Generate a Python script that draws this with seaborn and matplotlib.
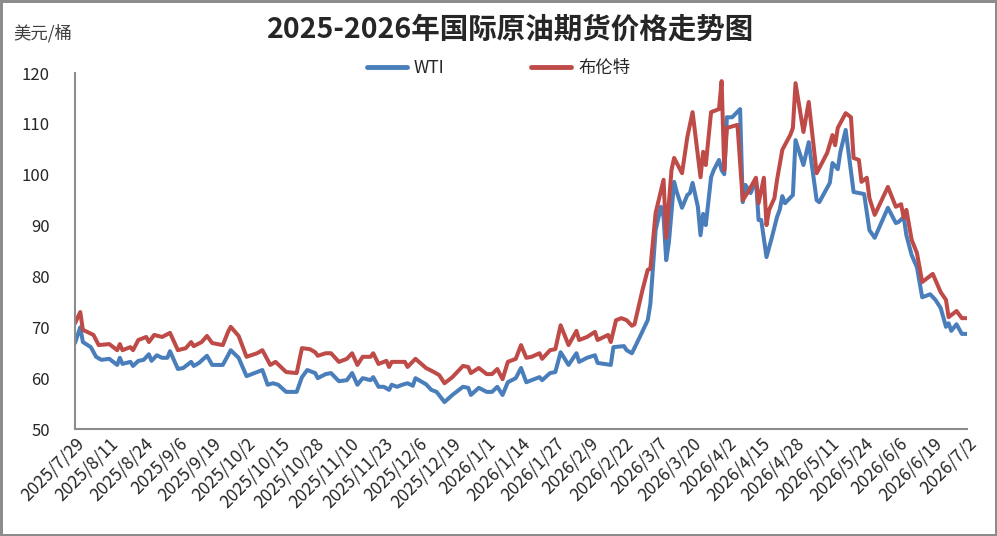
import pandas as pd
import seaborn as sns
from matplotlib import pyplot as plt

wti_dates = [
    "2025-07-29", "2025-07-31", "2025-08-01", "2025-08-04", "2025-08-06", "2025-08-08",
    "2025-08-11", "2025-08-14", "2025-08-15", "2025-08-16", "2025-08-19", "2025-08-20",
    "2025-08-22", "2025-08-24", "2025-08-26", "2025-08-27", "2025-08-29", "2025-08-31",
    "2025-09-02", "2025-09-03", "2025-09-06", "2025-09-08", "2025-09-11", "2025-09-12",
    "2025-09-14", "2025-09-17", "2025-09-19", "2025-09-23", "2025-09-25", "2025-09-26",
    "2025-09-29", "2025-10-02", "2025-10-05", "2025-10-08", "2025-10-10", "2025-10-12",
    "2025-10-14", "2025-10-17", "2025-10-21", "2025-10-23", "2025-10-25", "2025-10-28",
    "2025-10-29", "2025-11-01", "2025-11-03", "2025-11-06", "2025-11-09", "2025-11-11",
    "2025-11-13", "2025-11-15", "2025-11-18", "2025-11-19", "2025-11-21", "2025-11-23",
    "2025-11-25", "2025-11-26", "2025-11-28", "2025-11-30", "2025-12-02", "2025-12-04",
    "2025-12-05", "2025-12-09", "2025-12-11", "2025-12-13", "2025-12-16", "2025-12-19",
    "2025-12-23", "2025-12-25", "2025-12-26", "2025-12-29", "2026-01-01", "2026-01-03",
    "2026-01-05", "2026-01-07", "2026-01-09", "2026-01-12", "2026-01-14", "2026-01-16",
    "2026-01-18", "2026-01-21", "2026-01-22", "2026-01-25", "2026-01-27", "2026-01-29",
    "2026-02-01", "2026-02-04", "2026-02-05", "2026-02-08", "2026-02-11", "2026-02-12",
    "2026-02-17", "2026-02-18", "2026-02-22", "2026-02-23", "2026-02-25", "2026-02-28",
    "2026-03-03", "2026-03-04", "2026-03-06", "2026-03-08", "2026-03-09", "2026-03-10",
    "2026-03-11", "2026-03-13", "2026-03-14", "2026-03-16", "2026-03-18", "2026-03-19",
    "2026-03-20", "2026-03-22", "2026-03-23", "2026-03-24", "2026-03-25", "2026-03-27",
    "2026-03-28", "2026-03-30", "2026-03-31", "2026-04-01", "2026-04-02", "2026-04-04",
    "2026-04-07", "2026-04-08", "2026-04-09", "2026-04-11", "2026-04-13", "2026-04-14",
    "2026-04-15", "2026-04-17", "2026-04-19", "2026-04-21", "2026-04-22", "2026-04-23",
    "2026-04-24", "2026-04-27", "2026-04-28", "2026-05-01", "2026-05-03", "2026-05-06",
    "2026-05-07", "2026-05-11", "2026-05-12", "2026-05-14", "2026-05-15", "2026-05-17",
    "2026-05-20", "2026-05-22", "2026-05-24", "2026-05-26", "2026-05-28", "2026-06-02",
    "2026-06-05", "2026-06-06", "2026-06-08", "2026-06-09", "2026-06-11", "2026-06-13",
    "2026-06-15", "2026-06-18", "2026-06-20", "2026-06-22", "2026-06-24", "2026-06-25",
    "2026-06-26", "2026-06-28", "2026-06-30", "2026-07-02",
]
wti = [
    66.9, 70.0, 67.1, 66.1, 64.2, 63.6,
    63.8, 62.6, 64.0, 62.8, 63.2, 62.4,
    63.4, 63.6, 64.7, 63.4, 64.5, 64.0,
    64.0, 65.3, 61.8, 62.0, 63.2, 62.4,
    63.0, 64.4, 62.6, 62.6, 64.5, 65.5,
    64.0, 60.4, 61.0, 61.6, 58.7, 59.0,
    58.7, 57.3, 57.3, 60.2, 61.6, 61.0,
    60.0, 60.8, 61.0, 59.4, 59.6, 61.0,
    58.7, 60.0, 59.6, 60.2, 58.3, 58.3,
    57.7, 58.7, 58.3, 58.7, 59.0, 58.5,
    60.0, 58.8, 57.7, 57.3, 55.3, 56.7,
    58.3, 58.1, 56.7, 58.1, 57.3, 57.3,
    58.3, 56.7, 59.2, 60.0, 62.0, 59.2,
    59.6, 60.2, 59.6, 61.0, 61.2, 65.1,
    62.6, 64.9, 63.2, 64.0, 64.5, 63.0,
    62.6, 66.1, 66.3, 65.5, 64.9, 68.1,
    71.4, 74.6, 89.1, 93.7, 91.7, 83.2,
    86.6, 98.6, 96.6, 93.5, 96.0, 96.4,
    98.4, 93.7, 88.1, 92.3, 90.1, 99.5,
    100.9, 102.9, 100.9, 100.1, 111.3, 111.3,
    112.9, 94.6, 98.0, 96.4, 99.0, 91.1,
    91.1, 83.8, 87.6, 91.7, 93.1, 95.8,
    94.4, 96.0, 106.8, 101.9, 106.4, 95.0,
    94.6, 98.4, 102.3, 101.1, 104.5, 108.8,
    96.6, 96.4, 96.2, 89.1, 87.6, 93.5,
    90.5, 90.7, 91.7, 88.1, 84.2, 81.8,
    75.9, 76.5, 75.4, 73.8, 70.1, 70.8,
    69.3, 70.6, 68.7, 68.7,
]

brent_dates = [
    "2025-07-29", "2025-07-31", "2025-08-01", "2025-08-05", "2025-08-07", "2025-08-11",
    "2025-08-14", "2025-08-15", "2025-08-16", "2025-08-19", "2025-08-20", "2025-08-22",
    "2025-08-25", "2025-08-26", "2025-08-28", "2025-08-31", "2025-09-03", "2025-09-06",
    "2025-09-09", "2025-09-11", "2025-09-12", "2025-09-15", "2025-09-17", "2025-09-19",
    "2025-09-23", "2025-09-25", "2025-09-26", "2025-09-29", "2025-10-02", "2025-10-06",
    "2025-10-08", "2025-10-11", "2025-10-13", "2025-10-17", "2025-10-21", "2025-10-23",
    "2025-10-26", "2025-10-28", "2025-10-29", "2025-11-01", "2025-11-03", "2025-11-06",
    "2025-11-09", "2025-11-11", "2025-11-13", "2025-11-15", "2025-11-18", "2025-11-19",
    "2025-11-21", "2025-11-24", "2025-11-25", "2025-11-26", "2025-12-01", "2025-12-02",
    "2025-12-05", "2025-12-09", "2025-12-12", "2025-12-14", "2025-12-16", "2025-12-19",
    "2025-12-23", "2025-12-25", "2025-12-26", "2025-12-29", "2026-01-01", "2026-01-03",
    "2026-01-05", "2026-01-07", "2026-01-09", "2026-01-12", "2026-01-14", "2026-01-16",
    "2026-01-18", "2026-01-21", "2026-01-22", "2026-01-25", "2026-01-27", "2026-01-29",
    "2026-02-01", "2026-02-04", "2026-02-05", "2026-02-08", "2026-02-11", "2026-02-12",
    "2026-02-16", "2026-02-17", "2026-02-19", "2026-02-21", "2026-02-23", "2026-02-25",
    "2026-02-26", "2026-03-01", "2026-03-03", "2026-03-04", "2026-03-06", "2026-03-09",
    "2026-03-10", "2026-03-12", "2026-03-13", "2026-03-16", "2026-03-18", "2026-03-20",
    "2026-03-23", "2026-03-24", "2026-03-25", "2026-03-27", "2026-03-30", "2026-03-31",
    "2026-04-01", "2026-04-02", "2026-04-06", "2026-04-08", "2026-04-10", "2026-04-13",
    "2026-04-14", "2026-04-16", "2026-04-17", "2026-04-18", "2026-04-20", "2026-04-21",
    "2026-04-23", "2026-04-26", "2026-04-27", "2026-04-28", "2026-05-01", "2026-05-03",
    "2026-05-06", "2026-05-10", "2026-05-12", "2026-05-13", "2026-05-14", "2026-05-17",
    "2026-05-19", "2026-05-20", "2026-05-22", "2026-05-23", "2026-05-25", "2026-05-26",
    "2026-05-28", "2026-06-02", "2026-06-05", "2026-06-07", "2026-06-08", "2026-06-09",
    "2026-06-11", "2026-06-13", "2026-06-15", "2026-06-19", "2026-06-22", "2026-06-24",
    "2026-06-25", "2026-06-26", "2026-06-28", "2026-06-30", "2026-07-02",
]
brent = [
    70.8, 73.0, 69.5, 68.5, 66.5, 66.7,
    65.5, 66.7, 65.5, 66.1, 65.5, 67.5,
    68.1, 67.1, 68.5, 68.1, 68.9, 65.5,
    65.9, 67.1, 66.3, 67.1, 68.3, 66.9,
    66.5, 69.1, 70.1, 68.3, 64.2, 64.9,
    65.5, 62.6, 63.2, 61.2, 61.0, 65.9,
    65.7, 65.1, 64.4, 64.9, 64.9, 63.2,
    63.8, 64.9, 62.6, 64.2, 64.2, 64.9,
    62.8, 63.4, 62.2, 63.2, 63.2, 62.2,
    63.8, 62.0, 61.2, 60.6, 59.0, 60.2,
    62.4, 62.2, 61.0, 62.0, 60.8, 60.8,
    61.8, 59.8, 63.2, 63.8, 66.5, 64.0,
    64.2, 64.9, 63.8, 65.5, 65.7, 70.4,
    66.5, 69.3, 67.5, 68.1, 69.1, 67.5,
    68.5, 67.1, 71.4, 71.8, 71.4, 70.3,
    70.6, 77.3, 81.3, 81.5, 92.5, 99.0,
    87.6, 100.9, 103.3, 100.3, 107.4, 112.3,
    99.5, 104.5, 101.9, 112.3, 112.9, 118.4,
    100.9, 109.2, 109.8, 95.0, 96.6, 99.4,
    94.4, 99.4, 90.1, 93.1, 95.4, 99.0,
    104.9, 107.8, 109.2, 118.0, 108.4, 114.3,
    100.3, 104.3, 107.8, 105.8, 109.2, 112.1,
    111.3, 103.3, 102.9, 98.6, 99.4, 95.4,
    92.1, 97.6, 93.7, 94.2, 91.5, 93.1,
    87.2, 84.6, 78.9, 80.5, 76.9, 75.4,
    72.0, 72.4, 73.2, 71.8, 71.8,
]

tick_start = "2025-07-29"
tick_end = "2026-07-02"
y_ticks = [50, 60, 70, 80, 90, 100, 110, 120]

df = pd.concat([
    pd.DataFrame({"date": pd.to_datetime(wti_dates), "price": wti, "series": "WTI"}),
    pd.DataFrame({"date": pd.to_datetime(brent_dates), "price": brent, "series": "布伦特"}),
])

sns.set_style("white")
plt.rcParams["font.family"] = ["Noto Sans CJK SC", "DejaVu Sans"]

fig = plt.figure(figsize=(9.97, 5.36), dpi=100)
fig.patch.set_edgecolor("#8c8c8c")
fig.patch.set_linewidth(2.5)
ax = fig.add_axes([0.0752, 0.1996, 0.8948, 0.6642])

sns.lineplot(
    data=df, x="date", y="price", hue="series",
    palette={"WTI": "#4a7ebb", "布伦特": "#be4b48"},
    linewidth=2.9, ax=ax, legend=False,
)

ticks = pd.date_range(tick_start, tick_end, freq="13D")
ax.set_xticks(ticks)
ax.set_xticklabels([f"{d.year}/{d.month}/{d.day}" for d in ticks],
                   rotation=45, ha="right", rotation_mode="anchor", fontsize=12.5)
ax.set_xlim(ticks[0], ticks[-1])
ax.set_ylim(50, 120)
ax.set_yticks(y_ticks)
ax.tick_params(axis="y", labelsize=12, pad=18, length=0)
ax.tick_params(axis="x", length=0, pad=4)
ax.set_xlabel("")
ax.set_ylabel("")

for s in ["top", "right"]:
    ax.spines[s].set_visible(False)
for s in ["left", "bottom"]:
    ax.spines[s].set_color("#8c8c8c")
    ax.spines[s].set_linewidth(1.5)

fig.text(0.512, 0.945, "2025-2026年国际原油期货价格走势图", ha="center", va="center",
         fontsize=20.5, fontweight="bold")
fig.text(0.013, 0.938, "美元/桶", ha="left", va="center", fontsize=12.5, color="#404040")

handles = [plt.Line2D([], [], color="#4a7ebb", lw=3.5),
           plt.Line2D([], [], color="#be4b48", lw=3.5)]
fig.legend(handles, ["WTI", "布伦特"], loc="center", bbox_to_anchor=(0.5, 0.873),
           ncol=2, frameon=False, fontsize=12.5, handlelength=2.3, columnspacing=5,
           handletextpad=0.4)

fig.savefig("out.png", dpi=100)
